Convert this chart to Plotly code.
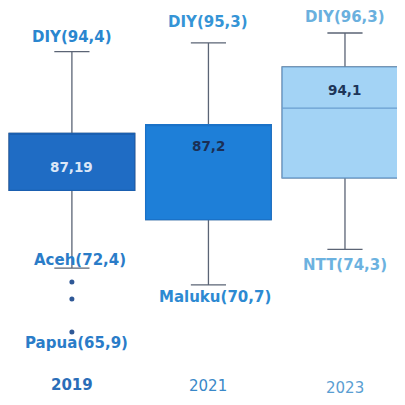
import plotly.graph_objects as go

# ---- data ----
years = ["2019", "2021", "2023"]
upper_fence = [94.4, 95.3, 96.3]
q3_vals = [86.10, 86.98, 92.84]
median_line = [86.10, 86.98, 88.67]
q1_vals = [80.29, 77.32, 81.56]
lower_fence = [72.4, 70.7, 74.3]
median_labels = ["87,19", "87,2", "94,1"]
top_labels = ["DIY(94,4)", "DIY(95,3)", "DIY(96,3)"]
bottom_labels = ["Aceh(72,4)", "Maluku(70,7)", "NTT(74,3)"]
outlier_year = ["2019", "2019", "2019"]
outlier_vals = [70.98, 69.26, 65.90]
outlier_label = "Papua(65,9)"

# ---- styles ----
FONT = "DejaVu Sans"
box_fill = ["#1f6cc4", "#1e7fd8", "#a3d3f5"]
box_line = ["#1a5fb0", "#1a72c8", "#6b9fcf"]
median_font_color = ["#dbe7f7", "#1b2f55", "#1d3558"]
top_color = ["#2a86cf", "#3594d6", "#6ab0de"]
bottom_color = ["#2a7cc8", "#2d8ad2", "#6cb2e0"]
year_color = ["#2a6db8", "#3a88c8", "#5a9ed2"]
top_shift = [15, 21, 16]
bottom_shift = [8, -12, -16]
bottom_xshift = [8, 7, 0]
median_shift = [-5, -21, -2.5]
year_shift = [12, 11, 9]

fig = go.Figure()

# whiskers (gray)
fig.add_trace(go.Box(
    x=years, q1=q1_vals, median=median_line, q3=q3_vals,
    lowerfence=lower_fence, upperfence=upper_fence,
    fillcolor="rgba(0,0,0,0)", line=dict(color="#5b6475", width=1.3),
    whiskerwidth=0.28, width=0.92, boxpoints=False, showlegend=False,
    hoverinfo="skip",
))

# coloured boxes
for i, yr in enumerate(years):
    fig.add_trace(go.Box(
        x=[yr], q1=[q1_vals[i]], median=[median_line[i]], q3=[q3_vals[i]],
        lowerfence=[q1_vals[i]], upperfence=[q3_vals[i]],
        fillcolor=box_fill[i], line=dict(color=box_line[i], width=1.2),
        whiskerwidth=0, width=0.92, boxpoints=False, showlegend=False,
        hoverinfo="skip",
    ))

# outliers
fig.add_trace(go.Scatter(
    x=outlier_year, y=outlier_vals, mode="markers",
    marker=dict(color="#2f5896", size=5), showlegend=False, hoverinfo="skip",
))


def b(t):
    return "<b>" + t + "</b>"


ann = []
for i, yr in enumerate(years):
    ann.append(dict(x=i, y=upper_fence[i], text=b(top_labels[i]), showarrow=False,
                    yshift=top_shift[i], yanchor="middle",
                    font=dict(family=FONT, size=15, color=top_color[i])))
    ann.append(dict(x=i, y=lower_fence[i], text=b(bottom_labels[i]), showarrow=False,
                    yshift=bottom_shift[i], xshift=bottom_xshift[i], yanchor="middle",
                    font=dict(family=FONT, size=15, color=bottom_color[i])))
    mid_ref = [(q1_vals[0] + q3_vals[0]) / 2, q3_vals[1], (q3_vals[2] + median_line[2]) / 2][i]
    ann.append(dict(x=i, y=mid_ref, text=b(median_labels[i]), showarrow=False,
                    yshift=median_shift[i], yanchor="middle",
                    font=dict(family=FONT, size=13.5, color=median_font_color[i])))
    ann.append(dict(x=i, y=0, yref="paper", text=b(yr) if i == 0 else yr, showarrow=False,
                    yshift=year_shift[i], yanchor="middle",
                    font=dict(family=FONT, size=15, color=year_color[i])))

ann.append(dict(x=0, y=outlier_vals[-1], text=b(outlier_label), showarrow=False,
                yshift=-11, xshift=5, yanchor="middle",
                font=dict(family=FONT, size=15, color="#2a7cc8")))

fig.update_layout(
    width=389, height=389,
    margin=dict(l=0, r=0, t=0, b=0),
    paper_bgcolor="white", plot_bgcolor="white",
    boxmode="overlay",
    xaxis=dict(type="category", range=[-0.468, 2.381], visible=False),
    yaxis=dict(range=[59.29, 98.84], visible=False),
    annotations=ann,
)

fig.write_html("out.html")
